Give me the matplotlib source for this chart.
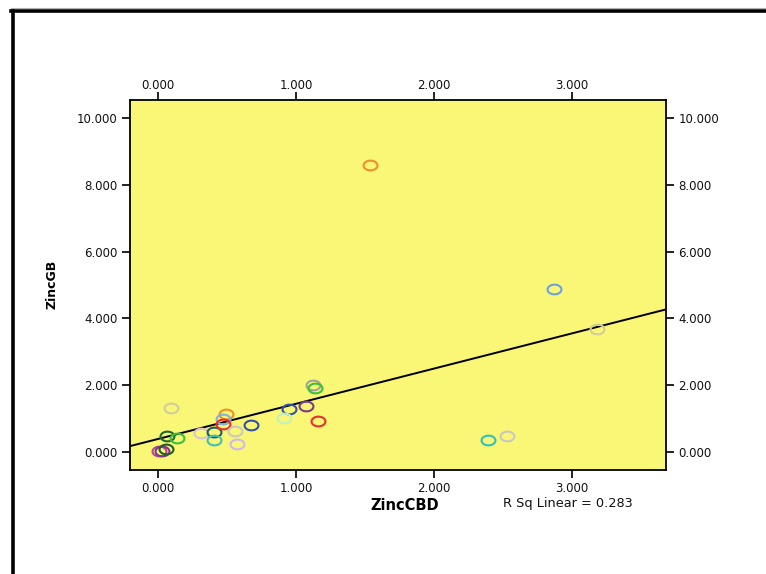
import matplotlib.pyplot as plt
import numpy as np
from matplotlib.path import Path
from matplotlib.lines import Line2D
from matplotlib.transforms import ScaledTranslation

plt.rcParams['font.family'] = ['DejaVu Sans']

# ZincCBD vs ZincGB, one colour per case
zinc_cbd = [0.092, 0.063, 0.136, 0.007, 0.029, 0.056, 0.312, 0.404, 0.404,
            0.493, 0.469, 0.473, 0.560, 0.570, 0.672, 0.951, 0.913, 1.070,
            1.162, 1.121, 1.138, 1.536, 2.867, 3.181, 2.389, 2.529]
zinc_gb = [1.326, 0.488, 0.410, 0.030, 0.030, 0.090, 0.560, 0.599, 0.350,
           1.129, 0.979, 0.838, 0.629, 0.249, 0.808, 1.278, 1.009, 1.386,
           0.928, 2.006, 1.907, 8.593, 4.880, 3.674, 0.359, 0.479]
case_colors = ['#d2cc9c', '#1f6a2e', '#3cbf3c', '#c040a0', '#7b3a8c', '#245c2a',
               '#d8c0e0', '#1d5f6a', '#3cc0c0', '#f0902a', '#7fb0e0', '#e83030',
               '#c8c8c8', '#d0b8e8', '#3050b0', '#3050b0', '#c0f0c0', '#7a3a90',
               '#e83030', '#a0a0a0', '#3cbf3c', '#f0902a', '#6fa0e0', '#d2cc9c',
               '#30c0c0', '#c8c8c0']
r_sq_label = 0.283

x_ticks = [0, 1, 2, 3]
y_ticks = [0, 2, 4, 6, 8, 10]

x = np.array(zinc_cbd)
y = np.array(zinc_gb)
slope, intercept = np.polyfit(x, y, 1)

# slightly flattened circle marker
t = np.linspace(0, 2 * np.pi, 60)
ellipse = Path(np.column_stack([np.cos(t), 0.7 * np.sin(t)]), closed=True)

fig = plt.figure(figsize=(7.66, 5.74), dpi=100)
ax = fig.add_axes([130 / 766, 1 - 470 / 574, 536 / 766, 370 / 574])
ax.set_facecolor('#faf776')

xmin, xmax = -0.203, 3.681
ax.set_xlim(xmin, xmax)
ax.set_ylim(-0.539, 10.54)

xs = np.array([xmin, xmax])
ax.plot(xs, intercept + slope * xs, color='black', lw=1.4, zorder=2)

for xi, yi, c in zip(zinc_cbd, zinc_gb, case_colors):
    ax.plot(xi, yi, marker=ellipse, ms=10, mfc='none', mec=c, mew=1.5,
            ls='none', zorder=3)

ax.set_xticks(x_ticks)
ax.set_yticks(y_ticks)
ax.set_xticklabels([f'{v:.3f}' for v in x_ticks])
ax.set_yticklabels([f'{v:.3f}' for v in y_ticks])
ax.tick_params(direction='out', length=5.8, width=1.3, labelsize=8.5,
               top=True, right=True, labeltop=True, labelright=True,
               colors='#111111')
ax.tick_params(axis='x', pad=3)
ax.tick_params(axis='y', pad=3)
# top labels sit a little closer to their ticks
shift = ScaledTranslation(0, -3 / 72, fig.dpi_scale_trans)
for tick in ax.xaxis.get_major_ticks():
    tick.label2.set_transform(tick.label2.get_transform() + shift)
for s in ax.spines.values():
    s.set_linewidth(1.3)

ax.set_xlabel('ZincCBD', fontsize=10.5, fontweight='bold')
ax.xaxis.set_label_coords((405 - 130) / 536, -(505 - 470) / 370)
ax.xaxis.label.set_va('center')
ax.set_ylabel('ZincGB', fontsize=9, fontweight='bold')
ax.yaxis.set_label_coords((59 - 130) / 536, (470 - 284) / 370)
fig.text(568 / 766, 1 - 503 / 574, f'R Sq Linear = {r_sq_label:.3f}',
         fontsize=9.3, ha='center', va='center', color='#111111')

# outer frame: thick black edges top and left
fig.add_artist(Line2D([12.5 / 766, 12.5 / 766], [0, 1 - 11 / 574],
                      color='black', lw=2.6, transform=fig.transFigure))
fig.add_artist(Line2D([11 / 766, 1], [1 - 10.5 / 574, 1 - 10.5 / 574],
                      color='black', lw=2.6, transform=fig.transFigure))
fig.add_artist(Line2D([11 / 766, 1], [1 - 8 / 574, 1 - 8 / 574],
                      color='#b0b0b0', lw=0.8, transform=fig.transFigure))

fig.savefig('out.png', dpi=100)
